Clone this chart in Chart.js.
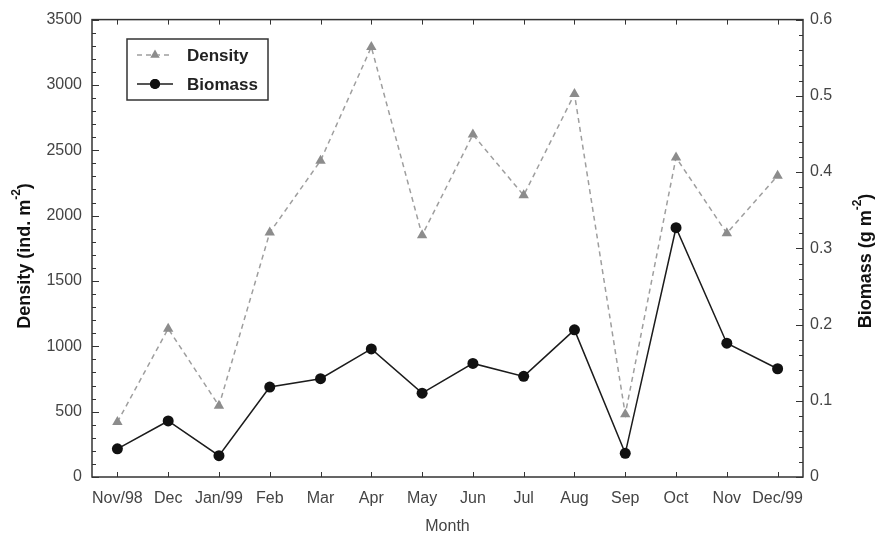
<!DOCTYPE html>
<html>
<head>
<meta charset="utf-8">
<script src="https://cdn.jsdelivr.net/npm/chart.js@4"></script>
<style>
  html, body { margin: 0; padding: 0; background: #fff; }
  #wrap { width: 876px; height: 536px; position: relative; }
</style>
</head>
<body>
<div id="wrap"><canvas id="chart"></canvas></div>
<script>
const months = ['Nov/98', 'Dec', 'Jan/99', 'Feb', 'Mar', 'Apr', 'May', 'Jun', 'Jul', 'Aug', 'Sep', 'Oct', 'Nov', 'Dec/99'];
const density = [420, 1135, 545, 1870, 2420, 3290, 1850, 2620, 2155, 2930, 480, 2445, 1865, 2305];
const biomass = [0.037, 0.0735, 0.028, 0.118, 0.129, 0.168, 0.110, 0.149, 0.132, 0.193, 0.031, 0.327, 0.1755, 0.142];

const densityTicks = [0, 500, 1000, 1500, 2000, 2500, 3000, 3500];
const biomassTicks = [0, 0.1, 0.2, 0.3, 0.4, 0.5, 0.6];

const FONT = '"Liberation Sans", Arial, sans-serif';
const INK = '#333';

// ticks pointing inward + box around the plot
const framePlugin = {
    id: 'frame',
    afterDraw(chart) {
        const ctx = chart.ctx;
        const a = chart.chartArea;
        const x = chart.scales.x, y = chart.scales.y, y1 = chart.scales.y1;
        ctx.save();
        ctx.strokeStyle = INK;
        ctx.lineWidth = 1.5;
        ctx.strokeRect(a.left, a.top, a.right - a.left, a.bottom - a.top);

        ctx.lineWidth = 1;
        ctx.beginPath();
        // left axis: major 500, minor 100
        for (let v = 0; v <= 3500; v += 100) {
            const py = Math.round(y.getPixelForValue(v)) + 0.5;
            const len = v % 500 === 0 ? 7 : 4;
            ctx.moveTo(a.left, py); ctx.lineTo(a.left + len, py);
        }
        // right axis: major 0.1, minor 0.02
        for (let i = 0; i <= 30; i++) {
            const py = Math.round(y1.getPixelForValue(i * 0.02)) + 0.5;
            const len = i % 5 === 0 ? 7 : 4;
            ctx.moveTo(a.right, py); ctx.lineTo(a.right - len, py);
        }
        // category ticks bottom and top
        months.forEach((m, i) => {
            const px = Math.round(x.getPixelForValue(i)) + 0.5;
            ctx.moveTo(px, a.bottom); ctx.lineTo(px, a.bottom - 5);
            ctx.moveTo(px, a.top); ctx.lineTo(px, a.top + 5);
        });
        ctx.stroke();
        ctx.restore();
    }
};

// axis titles with superscript, and the boxed legend
function drawSupTitle(ctx, cx, cy, main, sup, tail) {
    ctx.font = 'bold 18px ' + FONT;
    const w1 = ctx.measureText(main).width;
    const w3 = ctx.measureText(tail).width;
    ctx.font = 'bold 12px ' + FONT;
    const w2 = ctx.measureText(sup).width;
    const total = w1 + w2 + w3;
    ctx.save();
    ctx.translate(cx, cy);
    ctx.rotate(-Math.PI / 2);
    ctx.textBaseline = 'middle';
    ctx.textAlign = 'left';
    let sx = -total / 2;
    ctx.font = 'bold 18px ' + FONT;
    ctx.fillText(main, sx, 0);
    sx += w1;
    ctx.font = 'bold 12px ' + FONT;
    ctx.fillText(sup, sx, -8);
    sx += w2;
    ctx.font = 'bold 18px ' + FONT;
    ctx.fillText(tail, sx, 0);
    ctx.restore();
}

const annotPlugin = {
    id: 'annot',
    afterDraw(chart) {
        const ctx = chart.ctx;
        const a = chart.chartArea;
        ctx.save();
        ctx.fillStyle = '#111';
        drawSupTitle(ctx, 25, 256, 'Density (ind. m', '-2', ')');
        drawSupTitle(ctx, 866, 261, 'Biomass (g m', '-2', ')');

        ctx.font = '16px ' + FONT;
        ctx.fillStyle = '#444';
        ctx.textAlign = 'center';
        ctx.textBaseline = 'middle';
        ctx.fillText('Month', (a.left + a.right) / 2, 527);

        // legend box
        ctx.fillStyle = '#fff';
        ctx.fillRect(127, 39, 141, 61);
        ctx.strokeStyle = INK;
        ctx.lineWidth = 1.5;
        ctx.strokeRect(127, 39, 141, 61);

        const rows = [
            { ds: chart.data.datasets[0], y: 55 },
            { ds: chart.data.datasets[1], y: 84 }
        ];
        rows.forEach(r => {
            ctx.strokeStyle = r.ds.borderColor;
            ctx.lineWidth = r.ds.borderWidth;
            ctx.setLineDash(r.ds.borderDash || []);
            ctx.beginPath();
            ctx.moveTo(137, r.y); ctx.lineTo(173, r.y);
            ctx.stroke();
            ctx.setLineDash([]);
            Chart.helpers.drawPoint(ctx, {
                pointStyle: r.ds.pointStyle, radius: r.ds.pointRadius - 0.5,
                borderWidth: 0, rotation: 0
            }, 155, r.y);
            ctx.fillStyle = r.ds.pointBackgroundColor;
            ctx.fill();
            ctx.fillStyle = '#222';
            ctx.font = 'bold 17px ' + FONT;
            ctx.textAlign = 'left';
            ctx.fillText(r.ds.label, 187, r.y + 1);
        });
        ctx.restore();
    }
};

new Chart(document.getElementById('chart'), {
    type: 'line',
    data: {
        labels: months,
        datasets: [
            {
                label: 'Density',
                data: density,
                yAxisID: 'y',
                borderColor: '#9e9e9e',
                borderWidth: 1.5,
                borderDash: [5, 4],
                pointStyle: 'triangle',
                pointRadius: 6,
                pointBackgroundColor: '#8c8c8c',
                pointBorderColor: '#8c8c8c',
                pointBorderWidth: 0,
                tension: 0
            },
            {
                label: 'Biomass',
                data: biomass,
                yAxisID: 'y1',
                borderColor: '#1c1c1c',
                borderWidth: 1.5,
                pointStyle: 'circle',
                pointRadius: 5.5,
                pointBackgroundColor: '#111',
                pointBorderColor: '#111',
                pointBorderWidth: 0,
                tension: 0
            }
        ]
    },
    options: {
        responsive: true,
        maintainAspectRatio: false,
        animation: false,
        layout: { padding: { top: 19, left: 0, right: 0, bottom: 0 } },
        plugins: { legend: { display: false }, tooltip: { enabled: false } },
        scales: {
            x: {
                offset: true,
                grid: { display: false, drawTicks: false },
                border: { display: false },
                ticks: { color: '#444', font: { family: FONT, size: 16 }, padding: 12, maxRotation: 0, autoSkip: false },
                afterFit: s => { s.height = 59; }
            },
            y: {
                position: 'left',
                min: 0, max: 3500,
                afterBuildTicks: s => { s.ticks = densityTicks.map(v => ({ value: v })); },
                grid: { display: false, drawTicks: false },
                border: { display: false },
                ticks: { color: '#444', font: { family: FONT, size: 16 }, padding: 10, callback: v => String(v) },
                afterFit: s => { s.width = 92; }
            },
            y1: {
                position: 'right',
                min: 0, max: 0.6,
                afterBuildTicks: s => { s.ticks = biomassTicks.map(v => ({ value: v })); },
                grid: { display: false, drawTicks: false },
                border: { display: false },
                ticks: { color: '#444', font: { family: FONT, size: 16 }, padding: 7, callback: v => v === 0 ? '0' : v.toFixed(1) },
                afterFit: s => { s.width = 73; }
            }
        }
    },
    plugins: [framePlugin, annotPlugin]
});
</script>
</body>
</html>
